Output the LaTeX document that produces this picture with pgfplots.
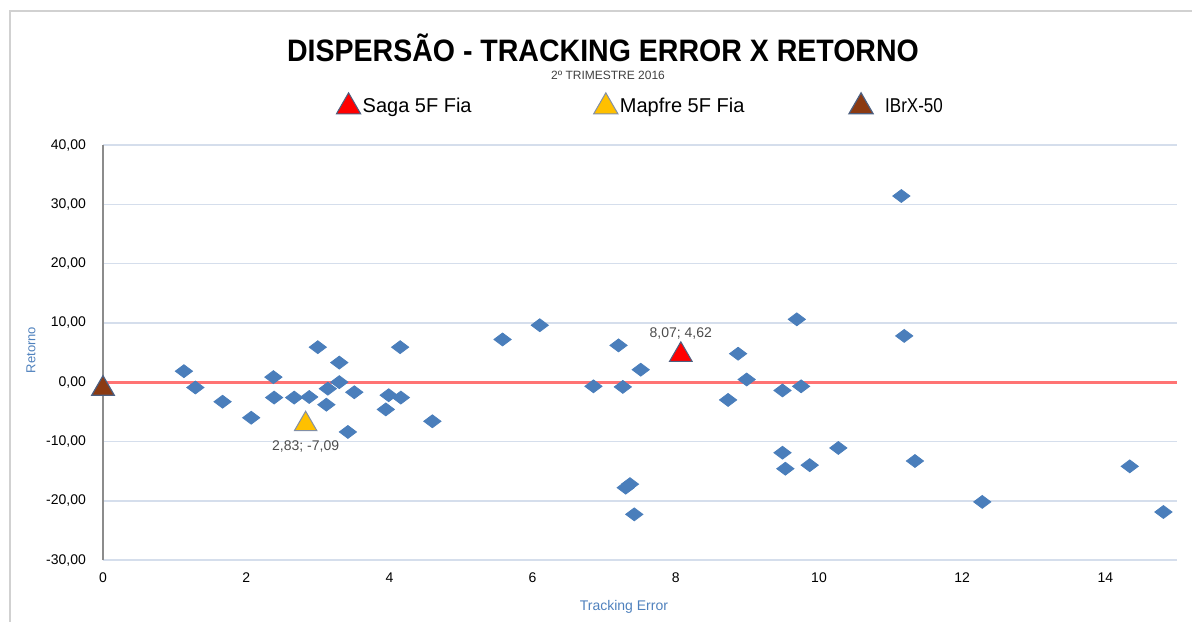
\documentclass[border=0pt]{standalone}
\usepackage{pgfplots}
\pgfplotsset{compat=1.18}
\usepackage{fontspec}
\setmainfont{Liberation Sans}
\definecolor{dia}{HTML}{4A7EBB}
\definecolor{gridc}{HTML}{D5DEEC}
\definecolor{lblue}{HTML}{4F81BD}
\definecolor{sagared}{HTML}{FF0000}
\definecolor{mapyel}{HTML}{FFC000}
\definecolor{ibrx}{HTML}{8B3A12}
\definecolor{edge}{HTML}{4D5F80}
\begin{document}
\begin{tikzpicture}
\useasboundingbox (0,0) rectangle (596pt,-310.5pt);
\draw[line width=1pt, color=black!18] (5pt,-311pt) -- (5pt,-5.25pt) -- (597pt,-5.25pt);
\node[font=\bfseries\fontsize{15.5}{17}\selectfont] at (301.5pt,-24pt) {\scalebox{0.92}[1]{DISPERSÃO - TRACKING ERROR X RETORNO}};
\node[font=\fontsize{6}{7}\selectfont, text=black!75] at (304pt,-37.5pt) {2º TRIMESTRE 2016};
\begin{axis}[
  at={(51.5pt,-280pt)}, anchor=south west,
  scale only axis, width=537pt, height=207.5pt,
  xmin=0, xmax=15, ymin=-30, ymax=40,
  xtick={0,2,...,14}, ytick={-30,-20,...,40},
  axis x line*=bottom, axis y line*=left,
  x axis line style={draw=gridc, line width=0.8pt},
  y axis line style={draw=black!45, line width=0.8pt},
  ymajorgrids, grid style={draw=gridc, line width=0.8pt},
  major tick length=0pt,
  tick label style={font=\fontsize{7}{8}\selectfont, text=black},
  /pgf/number format/assume math mode=true,
  yticklabel style={xshift=-5pt, /pgf/number format/.cd, fixed, fixed zerofill, precision=2, use comma, 1000 sep={}},
  xticklabel style={yshift=-3pt},
  xlabel={Tracking Error},
  xlabel style={at={(axis description cs:0.485,-0.113)}, anchor=center, font=\fontsize{7}{8}\selectfont, text=lblue},
  ylabel={Retorno},
  ylabel style={at={(axis description cs:-0.067,0.506)}, anchor=center, font=\fontsize{6.5}{8}\selectfont, text=lblue},
  legend style={at={(0.2114,1.096)}, anchor=west, draw=none, fill=none, font=\fontsize{10}{12}\selectfont, nodes={inner sep=1pt}},
  legend columns=3,
  legend image code/.code={\draw[#1, mark size=7pt] plot coordinates {(0cm,0cm)};},
  clip=false,
]
\addplot[forget plot, color=red!55, line width=1.4pt] coordinates {(0,0) (15,0)};
\addplot[forget plot, only marks, mark=diamond*, mark size=4.3pt, color=dia, mark options={rotate=90, fill=dia, draw=dia}] coordinates {
(1.13,1.85) (1.29,-0.9) (1.67,-3.3) (2.07,-6.0) (2.38,0.85) (2.39,-2.6) (2.67,-2.6) (2.88,-2.5)
(3.00,5.9) (3.12,-3.8) (3.14,-1.1) (3.30,3.3) (3.30,0.0) (3.42,-8.4) (3.51,-1.7) (3.95,-4.6)
(3.99,-2.2) (4.15,5.9) (4.16,-2.6) (4.60,-6.6) (5.58,7.2) (6.10,9.6) (6.85,-0.7) (7.20,6.2)
(7.26,-0.8) (7.30,-17.8) (7.36,-17.2) (7.42,-22.3) (7.51,2.1) (8.73,-3.0) (8.87,4.8) (8.99,0.45)
(9.49,-1.4) (9.49,-11.9) (9.53,-14.6) (9.69,10.6) (9.75,-0.7) (9.87,-14.0) (10.27,-11.1)
(11.15,31.4) (11.19,7.8) (11.34,-13.3) (12.28,-20.2) (14.34,-14.2) (14.81,-21.9)
};
\addplot[only marks, mark=triangle*, mark size=6.5pt, color=edge, mark options={fill=sagared, draw=edge, line width=0.5pt},
  nodes near coords={8,07; 4,62},
  every node near coord/.append style={anchor=center, yshift=10.8pt, font=\fontsize{7}{8}\selectfont, text=black!70}]
  coordinates {(8.07,4.62)};
\addlegendentry{\makebox[114.5pt][l]{Saga 5F Fia}}
\addplot[only marks, mark=triangle*, mark size=6.5pt, color=edge, mark options={fill=mapyel, draw=edge!70, line width=0.5pt},
  nodes near coords={2,83; -7,09},
  every node near coord/.append style={anchor=center, yshift=-11pt, font=\fontsize{7}{8}\selectfont, text=black!70}]
  coordinates {(2.83,-7.09)};
\addlegendentry{\makebox[113.5pt][l]{Mapfre 5F Fia}}
\addplot[only marks, mark=triangle*, mark size=6.5pt, color=edge, mark options={fill=ibrx, draw=edge, line width=0.6pt}]
  coordinates {(0,-1.1)};
\addlegendentry{\hspace{5pt}\scalebox{0.85}[1]{IBrX-50}}
\end{axis}
\end{tikzpicture}
\end{document}
